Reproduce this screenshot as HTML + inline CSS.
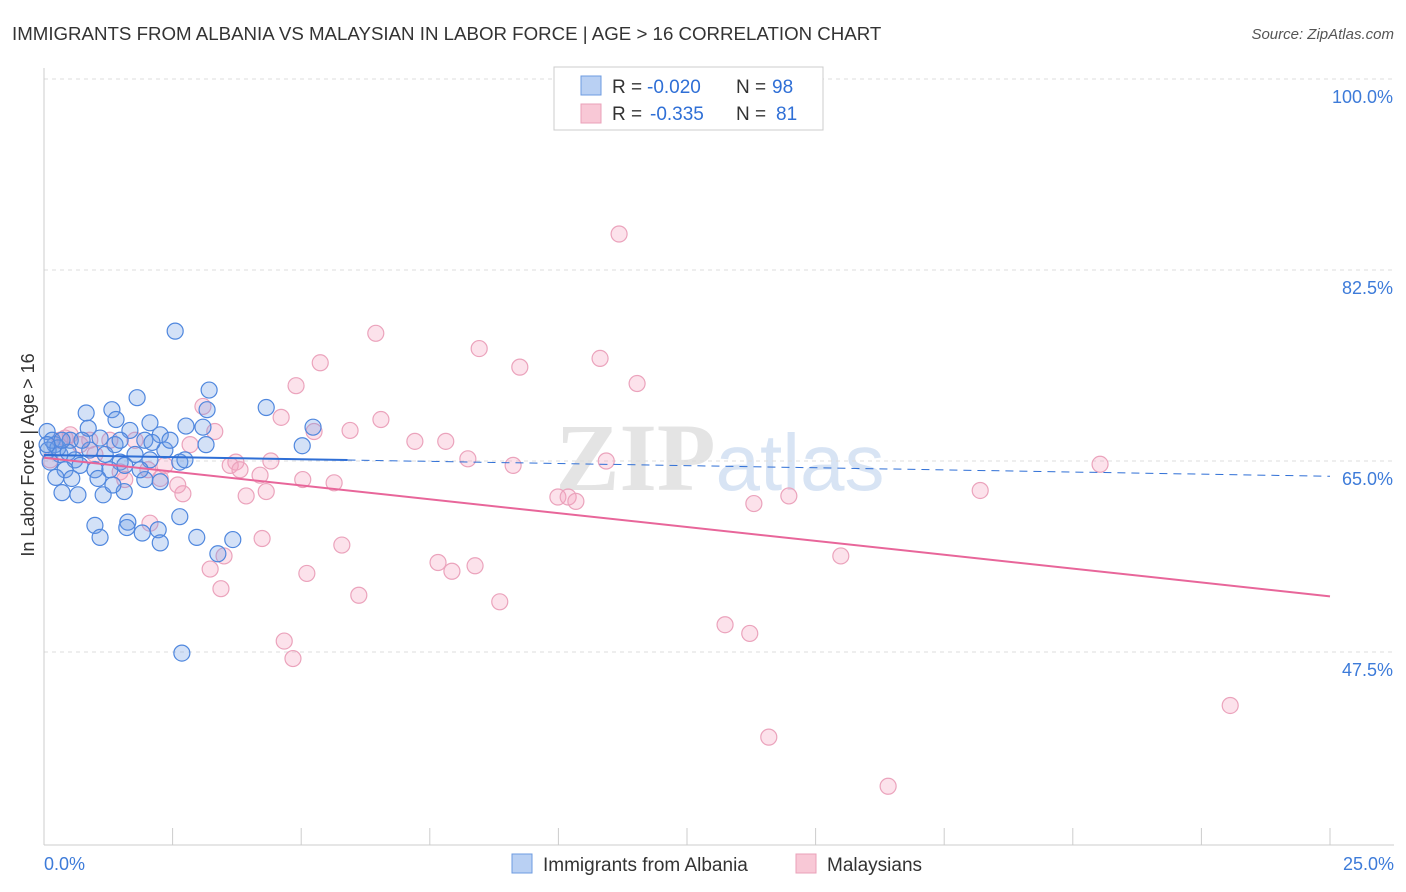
<!DOCTYPE html>
<html><head><meta charset="utf-8"><style>
body{margin:0;background:#fff;font-family:"Liberation Sans",sans-serif;}
svg{display:block}
</style></head><body>
<svg id="c" width="1406" height="892" xmlns="http://www.w3.org/2000/svg">
<text x="12" y="40" font-size="18.7" fill="#333">IMMIGRANTS FROM ALBANIA VS MALAYSIAN IN LABOR FORCE | AGE &gt; 16 CORRELATION CHART</text>
<text x="1394" y="39" font-size="15" fill="#555" font-style="italic" text-anchor="end">Source: ZipAtlas.com</text>
<text x="720" y="490" font-size="96" fill="#e4e4e4" text-anchor="middle" font-family="Liberation Serif,serif" font-weight="bold">ZIP<tspan fill="#d8e4f4" font-family="Liberation Sans,sans-serif" font-weight="normal" font-size="80">atlas</tspan></text>
<g id="grid"></g><g id="axes"></g><g id="pts"></g><g id="trend"></g>
<text transform="translate(34,455) rotate(-90)" font-size="18" fill="#333" text-anchor="middle">In Labor Force | Age &gt; 16</text>
<g>
<rect x="554" y="67" width="269" height="63" fill="#fff" stroke="#ccc"/>
<rect x="581" y="76" width="20" height="19" fill="#b9d0f3" stroke="#6d9be0"/>
<rect x="581" y="104" width="20" height="19" fill="#f8c8d6" stroke="#eaa0b8"/>
<text x="612" y="93" font-size="19" fill="#333">R =</text>
<text x="647" y="93" font-size="19" fill="#2f6fd6">-0.020</text>
<text x="736" y="93" font-size="19" fill="#333">N =</text>
<text x="772" y="93" font-size="19" fill="#2f6fd6">98</text>
<text x="612" y="120" font-size="19" fill="#333">R =</text>
<text x="650" y="120" font-size="19" fill="#2f6fd6">-0.335</text>
<text x="736" y="120" font-size="19" fill="#333">N =</text>
<text x="776" y="120" font-size="19" fill="#2f6fd6">81</text>
</g>
<g>
<rect x="512" y="854" width="20" height="19" fill="#b9d0f3" stroke="#6d9be0"/>
<text x="543" y="871" font-size="19" fill="#333">Immigrants from Albania</text>
<rect x="796" y="854" width="20" height="19" fill="#f8c8d6" stroke="#eaa0b8"/>
<text x="827" y="871" font-size="19" fill="#333">Malaysians</text>
</g>
</svg>
<script>
const yTicks=[100,82.5,65,47.5];
const xTickLabels=["0.0%","25.0%"];
const blueX=[2.55,3.21,1.81,4.32,0.82,1.32,3.17,5.23,2.76,2.06,5.02,3.09,3.15,1.40,1.67,1.96,2.26,0.86,1.09,0.51,0.21,0.31,0.60,0.89,1.19,1.48,1.77,2.06,2.35,2.64,0.08,0.12,0.41,0.70,0.99,1.28,1.57,0.23,0.54,1.05,0.35,0.66,1.15,1.56,1.96,2.26,1.34,0.99,1.63,1.09,1.61,2.22,2.64,1.91,2.26,2.97,3.67,3.38,2.68,0.06,0.16,0.27,0.47,0.74,1.38,1.87,2.45,2.74,0.06,0.35,1.48,2.10];
const blueY=[76.9,71.5,70.8,69.9,69.4,69.7,69.7,68.1,68.2,68.5,66.4,68.1,66.5,68.8,67.8,66.9,67.4,68.0,67.1,66.9,66.5,65.6,65.1,66.0,65.6,64.9,65.6,65.1,66.0,64.9,66.0,64.9,64.2,64.6,64.2,64.2,64.6,63.5,63.4,63.4,62.1,61.9,61.9,62.2,63.3,63.1,62.8,59.1,59.4,58.0,58.9,58.7,59.9,58.4,57.5,58.0,57.8,56.5,47.4,67.7,66.9,66.2,65.8,66.9,66.5,64.2,66.9,65.1,66.5,66.9,66.9,66.7];
const pinkX=[11.18,6.45,8.46,10.81,5.37,9.25,11.53,4.90,3.09,4.61,6.55,3.32,5.95,5.25,7.21,7.81,8.24,9.12,10.93,4.41,3.73,20.53,5.03,5.64,4.32,3.93,9.99,10.19,10.34,13.80,14.48,18.20,5.79,4.24,3.23,3.50,5.11,7.66,7.93,8.38,6.12,3.44,8.86,15.49,13.24,13.72,4.67,4.84,23.06,14.09,16.41,2.06,2.70,2.60,2.26,1.48,1.57,0.51,0.31,0.70,0.99,1.77,2.02,2.35,2.84,3.62,3.81,4.20,0.12,0.41,0.89,1.28];
const pinkY=[85.8,76.7,75.3,74.4,74.0,73.6,72.1,71.9,70.0,69.0,68.8,67.7,67.8,67.7,66.8,66.8,65.2,64.6,65.0,65.0,64.9,64.7,63.3,63.0,62.2,61.8,61.7,61.7,61.3,61.1,61.8,62.3,57.3,57.9,55.1,56.3,54.7,55.7,54.9,55.4,52.7,53.3,52.1,56.3,50.0,49.2,48.5,46.9,42.6,39.7,35.2,59.3,62.0,62.8,63.4,64.0,63.3,67.4,66.9,66.5,65.6,66.9,64.2,64.6,66.5,64.6,64.2,63.7,65.1,67.1,66.9,66.9];
const blueTrend=[65.55,63.6];
const pinkTrend=[65.3,52.6];
const blueSolidEnd=5.9;
const NS="http://www.w3.org/2000/svg";
const X=v=>44+v*(1286/25);
const Y=v=>79+(100-v)*(191/17.5);
function mk(tag,attrs,parent){const e=document.createElementNS(NS,tag);for(const k in attrs)e.setAttribute(k,attrs[k]);parent.appendChild(e);return e;}
const grid=document.getElementById('grid'),axes=document.getElementById('axes'),pts=document.getElementById('pts'),tr=document.getElementById('trend');
yTicks.forEach(t=>{
 const l=mk('line',{x1:44,x2:1394,y1:Y(t),y2:Y(t),stroke:'#ddd','stroke-dasharray':'4,4'},grid);
 
 
 const tx=mk('text',{x:1393,y:Y(t)+24,'font-size':18,fill:'#3d7bd9','text-anchor':'end'},axes);
 tx.textContent=t.toFixed(1)+'%';
 
 
});
mk('line',{x1:44,x2:44,y1:68,y2:845,stroke:'#ccc'},axes);
const xa=mk('line',{x1:44,x2:1394,y1:845,y2:845,stroke:'#ccc'},axes);


for(let i=0;i<=10;i++){const tk=mk('line',{x1:X(i*2.5),x2:X(i*2.5),y1:828,y2:845,stroke:'#ccc'},axes);
 
 }
[[0,'start',44],[25,'end',1394]].forEach((a,i)=>{const tx=mk('text',{x:a[2],y:870,'font-size':18,fill:'#3d7bd9','text-anchor':a[1]},axes);tx.textContent=xTickLabels[i];
 
 });
pinkX.forEach((x,i)=>{const c=mk('circle',{cx:X(x),cy:Y(pinkY[i]),r:8,fill:'rgba(244,160,188,0.3)',stroke:'#eba3bc','stroke-width':1.2},pts);
 
 });
blueX.forEach((x,i)=>{const c=mk('circle',{cx:X(x),cy:Y(blueY[i]),r:8,fill:'rgba(110,155,230,0.3)',stroke:'#4f87de','stroke-width':1.2},pts);
 
 });
const by=x=>blueTrend[0]+(blueTrend[1]-blueTrend[0])*x/25;
const b1=mk('line',{x1:X(0),y1:Y(blueTrend[0]),x2:X(blueSolidEnd),y2:Y(by(blueSolidEnd)),stroke:'#2f6fd6','stroke-width':2},tr);


const b2=mk('line',{x1:X(blueSolidEnd),y1:Y(by(blueSolidEnd)),x2:X(25),y2:Y(blueTrend[1]),stroke:'#2f6fd6','stroke-width':1,'stroke-dasharray':'8,6'},tr);


const p1=mk('line',{x1:X(0),y1:Y(pinkTrend[0]),x2:X(25),y2:Y(pinkTrend[1]),stroke:'#e8669a','stroke-width':2},tr);


</script>
</body></html>
